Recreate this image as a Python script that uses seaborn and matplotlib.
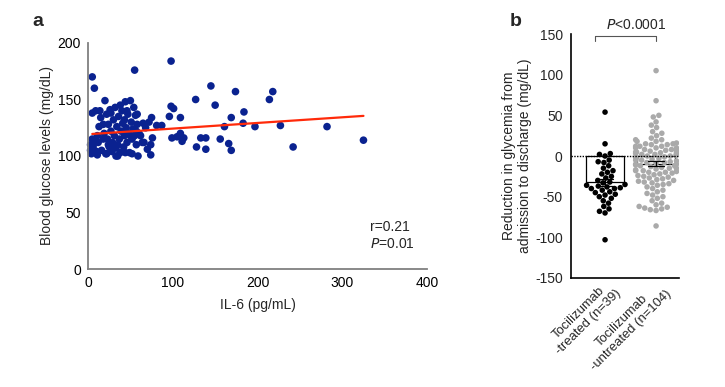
"""
Two-panel figure: IL-6 vs blood glucose scatter (a) and glycemia reduction
by tocilizumab treatment (b).
"""

import warnings

import matplotlib.pyplot as plt
import numpy as np
import pandas as pd
import seaborn as sns

warnings.filterwarnings("ignore")

# ---- panel a data: IL-6 (pg/mL) vs blood glucose (mg/dL) ----
il6 = [5, 7.5, 98, 55, 145, 174, 218, 214, 127, 150, 184, 169, 161, 183, 197,
       227, 282, 242, 325, 156, 166, 169, 128, 139, 133, 139, 98, 101, 96, 109,
       99, 109, 111, 105, 113, 87, 81, 75, 76, 74, 74, 66, 65, 58, 54, 50, 44,
       59, 52, 44, 35, 22, 11, 3, 5, 9, 20, 15, 13, 26, 22,
       3, 4, 5, 6, 8, 10, 11, 12, 16, 18, 19, 21, 23, 24, 25, 27, 28, 29, 30,
       31, 32, 33, 34, 35, 36, 37, 38, 39, 40, 41, 42, 43, 45, 46, 47, 48, 49,
       51, 52, 53, 55, 56, 57, 58, 60, 62, 64, 68, 70, 72, 18, 27, 33, 46, 38,
       50, 14, 24, 43, 57, 30]
glucose = [170, 160, 184, 176, 162, 157, 157, 150, 150, 145, 139, 134, 126,
           129, 126, 127, 126, 108, 114, 115, 111, 105, 108, 106, 116, 116, 144,
           142, 135, 134, 116, 120, 113, 117, 116, 127, 127, 134, 116, 110, 101,
           112, 129, 137, 143, 149, 148, 100, 102, 103, 100, 102, 101, 105, 138,
           140, 149, 134, 126, 141, 137,
           110, 102, 115, 108, 112, 104, 118, 112, 105, 115, 120, 102, 115, 128,
           108, 122, 104, 112, 132, 118, 143, 100, 126, 110, 135, 115, 103, 122,
           140, 129, 108, 118, 125, 112, 137, 120, 103, 130, 115, 124, 118, 136,
           110, 128, 120, 118, 112, 125, 106, 130, 128, 138, 107, 140, 145, 118,
           140, 110, 132, 122, 108]

fit_x = [5, 325]
fit_y = [119.5, 135.5]

# ---- panel b data: reduction in glycemia (mg/dL) ----
treated = [54, 15, 3, 2, 0, -5, -7, -8, -12, -15, -18, -20, -22, -25, -27,
           -30, -32, -33, -35, -36, -37, -38, -39, -40, -40, -42, -44, -45,
           -47, -48, -50, -52, -55, -58, -62, -65, -68, -70, -103]
untreated = [105, 68, 50, 48, 42, 38, 35, 30, 28, 22, 20, 18, 15, 14, 12, 10,
             8, 7, 5, 5, 4, 3, 2, 2, 1, 0, 0, -1, -2, -2,
             -3, -4, -5, -5, -6, -7, -8, -8, -9, -10,
             -10, -11, -12, -12, -13, -14, -15, -15, -16, -17,
             -18, -18, -19, -20, -20, -21, -22, -23, -24, -25,
             -26, -27, -28, -29, -30, -31, -32, -33, -34, -35,
             -36, -38, -40, -42, -44, -46, -48, -50, -52, -55,
             -58, -60, -62, -63, -64, -65, -66, -67, -86,
             25, 20, 18, 16, 15, 14, 12, 12, 10, 10, 8, 8, 6, 5, 3]
groups = ["Tocilizumab\n-treated (n=39)", "Tocilizumab\n-untreated (n=104)"]

FS = 10

sns.set_theme(style="white")
plt.rcParams["font.family"] = ["Liberation Sans", "DejaVu Sans"]
plt.rcParams["font.size"] = FS
plt.rcParams["axes.unicode_minus"] = False

fig = plt.figure(figsize=(7.25, 3.87), dpi=100)

# ---------------- panel a ----------------
ax = fig.add_axes([0.1214, 0.3049, 0.4676, 0.584])
sns.scatterplot(x=il6, y=glucose, ax=ax, color="#0a2290", s=30,
                edgecolor="none", clip_on=False, zorder=2)
ax.plot(fit_x, fit_y, color="#ff2a0a", lw=1.6, zorder=3)
ax.set_xlim(0, 400)
ax.set_ylim(0, 200)
ax.set_xticks([0, 100, 200, 300, 400])
ax.set_yticks([0, 50, 100, 150, 200])
for s in ["top", "right"]:
    ax.spines[s].set_visible(False)
for s in ["left", "bottom"]:
    ax.spines[s].set_color("#808080")
    ax.spines[s].set_linewidth(1.3)
ax.tick_params(axis="both", direction="out", length=3, width=1,
               color="#808080", labelsize=FS, pad=2, labelcolor="black")
ax.set_xlabel("IL-6 (pg/mL)", fontsize=FS, labelpad=6)
ax.set_ylabel("Blood glucose levels (mg/dL)", fontsize=FS, labelpad=3)
ax.text(333, 37, "r=0.21", fontsize=FS, va="center")
ax.text(333, 22, "$\\it{P}$=0.01", fontsize=FS, va="center")
fig.text(0.045, 0.945, "a", fontsize=14, fontweight="bold", va="center")

# ---------------- panel b ----------------
bx = fig.add_axes([0.7876, 0.2817, 0.149, 0.6303])
df = pd.DataFrame({
    "group": [groups[0]] * len(treated) + [groups[1]] * len(untreated),
    "value": treated + untreated,
})
sns.barplot(data=df, x="group", y="value", order=groups, ax=bx,
            errorbar="se", width=0.74, color="white", edgecolor="black",
            linewidth=0.9, capsize=0.3, err_kws={"linewidth": 0.9,
                                                  "color": "black",
                                                  "zorder": 4})
sns.swarmplot(data=df, x="group", y="value", order=groups, ax=bx,
              hue="group", palette=["black", "#aaaaaa"], legend=False,
              size=4.0, zorder=3, warn_thresh=1)
bx.axhline(0, color="black", lw=1, ls=(0, (1, 1)), zorder=5)
bx.set_xlim(-0.667, 1.45)
bx.set_ylim(-150, 150)
bx.set_yticks(np.arange(-150, 151, 50))
for s in ["top", "right"]:
    bx.spines[s].set_visible(False)
for s in ["left", "bottom"]:
    bx.spines[s].set_color("black")
    bx.spines[s].set_linewidth(1.2)
bx.tick_params(axis="both", direction="out", length=5, width=1,
               color="black", labelsize=FS, pad=1)
bx.tick_params(axis="x", pad=-5)
bx.set_xlabel("")
bx.set_xticks([0, 1])
bx.set_xticklabels(groups, rotation=45, ha="right", va="top",
                   rotation_mode="anchor", multialignment="center",
                   linespacing=1.15, fontsize=9.4)
bx.set_ylabel("Reduction in glycemia from\nadmission to discharge (mg/dL)",
              fontsize=FS, labelpad=2)
# significance bracket
bx.plot([-0.2, 1, 1], [147, 147, 141], color="#555555", lw=0.8,
        clip_on=False)
bx.plot([-0.2, -0.2], [147, 141], color="#555555", lw=0.8, clip_on=False)
bx.text(0.6, 152, "$\\it{P}$<0.0001", fontsize=FS, ha="center",
        va="bottom")
fig.text(0.703, 0.945, "b", fontsize=14, fontweight="bold", va="center")

fig.savefig("out.png", dpi=100)
